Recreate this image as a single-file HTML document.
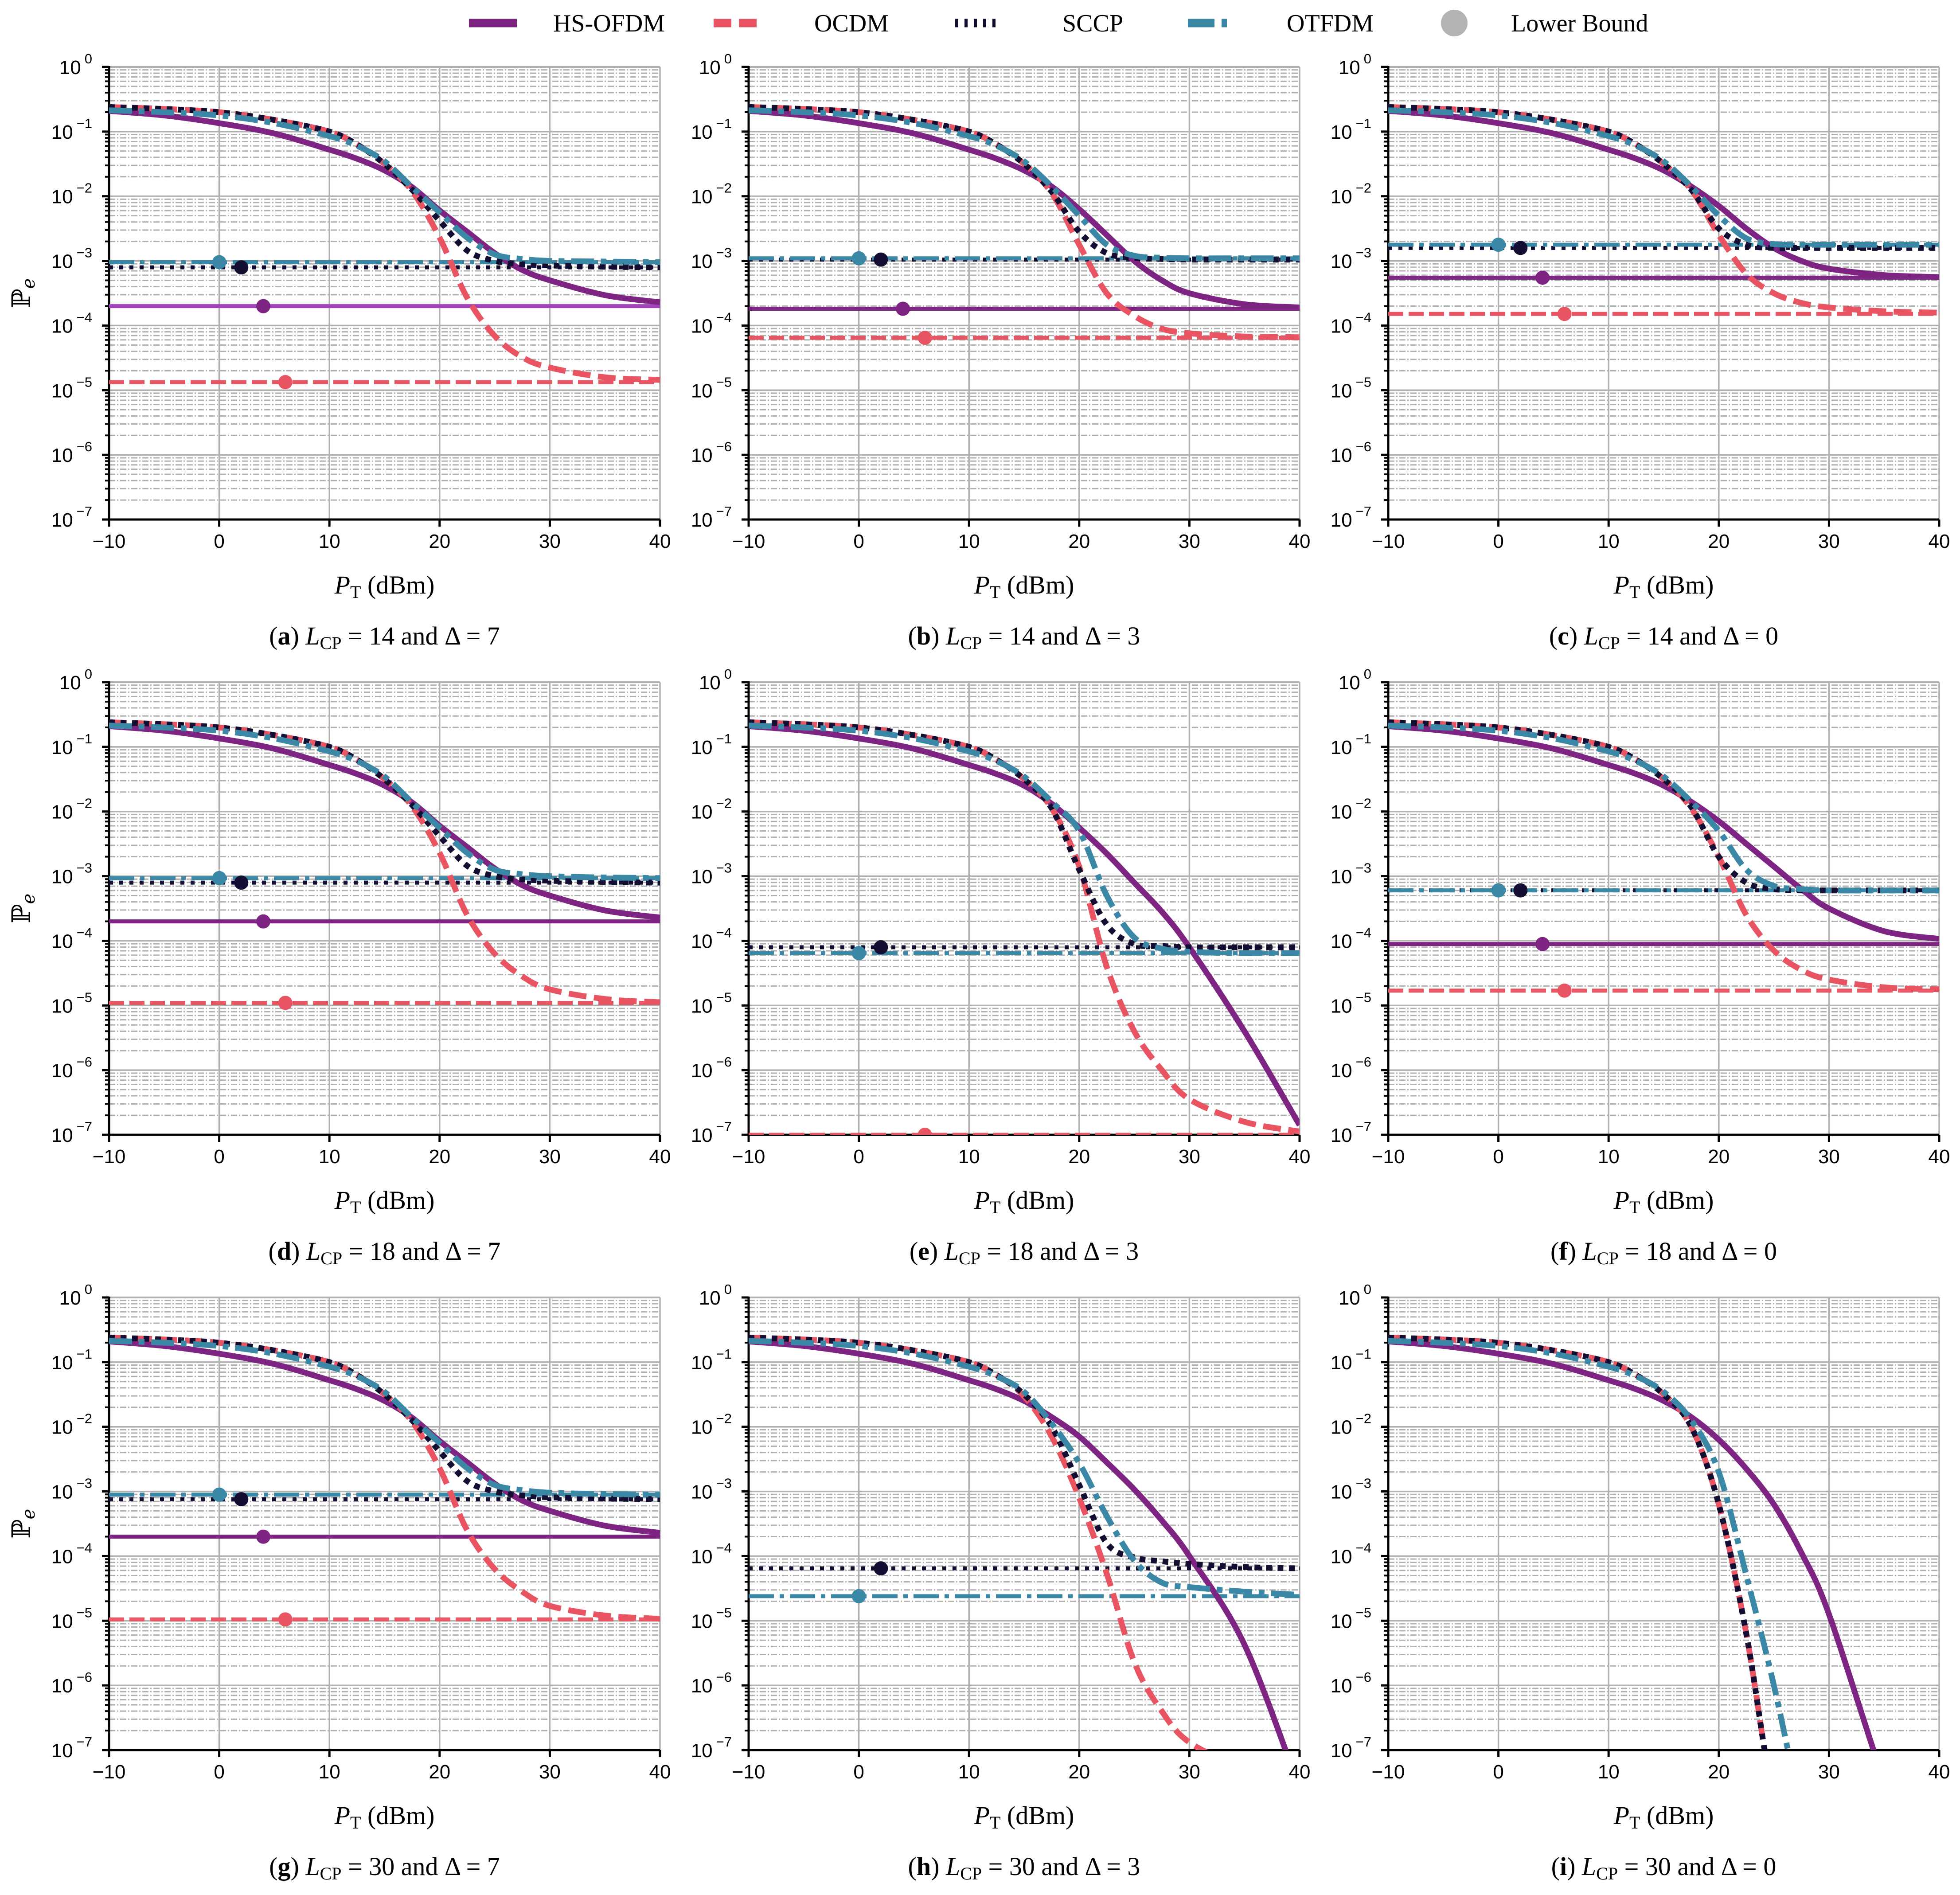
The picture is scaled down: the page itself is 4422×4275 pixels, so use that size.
<!DOCTYPE html>
<html><head><meta charset="utf-8"><style>
html,body{margin:0;padding:0;background:#fff;}
svg{display:block;}
</style></head><body>
<svg id="chart" xmlns="http://www.w3.org/2000/svg" width="4422" height="4275" viewBox="0 0 4422 4275">
<rect width="4422" height="4275" fill="#fff"/>
<g id="legend" font-family="Liberation Serif, serif" font-size="56">
  <g><line x1="1058" y1="52" x2="1166" y2="52" stroke="#7E2482" stroke-width="19"/><text x="1248" y="71">HS-OFDM</text></g>
  <g><line x1="1610" y1="52" x2="1718" y2="52" stroke="#E85462" stroke-width="19" stroke-dasharray="40 17"/><text x="1837" y="71">OCDM</text></g>
  <g><line x1="2155" y1="52" x2="2246" y2="52" stroke="#140F32" stroke-width="19" stroke-dasharray="7 14"/><text x="2397" y="71">SCCP</text></g>
  <g><line x1="2680" y1="52" x2="2791" y2="52" stroke="#3A88A6" stroke-width="19" stroke-dasharray="60 16 12 40"/><text x="2903" y="71">OTFDM</text></g>
  <g><circle cx="3281" cy="52" r="30" fill="#b3b3b3"/><text x="3409" y="71">Lower Bound</text></g>
</g>
<g id="panels"></g>
</svg>
<script>
const xs = [-10,-5,0,5,10,12.5,15,17.5,20,22.5,25,27.5,30,35,40];
const panelLetters = ['a','b','c','d','e','f','g','h','i'];
const panelLcp = [14,14,14,18,18,18,30,30,30];
const panelDelta = [7,3,0,7,3,0,7,3,0];
const yTickExps = [0,-1,-2,-3,-4,-5,-6,-7];
const xTickVals = [-10,0,10,20,30,40];
const boundX = [4,6,2,0]; // HS, OCDM, SCCP, OTFDM marker positions

// panel a
const hsA=[-0.68,-0.75,-0.87,-1.03,-1.28,-1.42,-1.6,-1.86,-2.22,-2.55,-2.88,-3.14,-3.30,-3.53,-3.64];
const ocA=[-0.62,-0.65,-0.70,-0.82,-1.0,-1.2,-1.5,-1.92,-2.64,-3.57,-4.16,-4.49,-4.65,-4.80,-4.84];
const scA=[-0.62,-0.65,-0.70,-0.82,-1.0,-1.2,-1.5,-1.9,-2.38,-2.84,-3.0,-3.05,-3.07,-3.09,-3.10];
const otA=[-0.67,-0.70,-0.75,-0.87,-1.07,-1.22,-1.46,-1.86,-2.25,-2.64,-2.9,-2.97,-3.0,-3.01,-3.02];
const boundA=[-3.70,-4.875,-3.10,-3.02];
// panel b
const hsB=[-0.68,-0.75,-0.87,-1.03,-1.28,-1.42,-1.6,-1.85,-2.2,-2.6,-3.0,-3.3,-3.5,-3.67,-3.72];
const ocB=[-0.62,-0.65,-0.70,-0.82,-1.0,-1.2,-1.5,-1.95,-2.75,-3.5,-3.85,-4.05,-4.12,-4.17,-4.18];
const scB=[-0.62,-0.65,-0.70,-0.82,-1.0,-1.2,-1.5,-1.93,-2.55,-2.88,-2.95,-2.97,-2.98,-2.98,-2.98];
const otB=[-0.67,-0.70,-0.75,-0.87,-1.07,-1.22,-1.46,-1.85,-2.3,-2.75,-2.92,-2.95,-2.96,-2.96,-2.96];
const boundB=[-3.74,-4.19,-2.98,-2.96];
// panel c
const hsC=[-0.68,-0.75,-0.87,-1.03,-1.28,-1.42,-1.6,-1.85,-2.15,-2.5,-2.8,-3.0,-3.12,-3.22,-3.25];
const ocC=[-0.62,-0.65,-0.70,-0.82,-1.0,-1.2,-1.5,-1.9,-2.6,-3.2,-3.5,-3.65,-3.72,-3.78,-3.8];
const scC=[-0.62,-0.65,-0.70,-0.82,-1.0,-1.2,-1.5,-1.9,-2.5,-2.75,-2.8,-2.8,-2.8,-2.8,-2.8];
const otC=[-0.67,-0.70,-0.75,-0.87,-1.07,-1.22,-1.46,-1.85,-2.3,-2.65,-2.74,-2.75,-2.75,-2.75,-2.75];
const boundC=[-3.26,-3.82,-2.8,-2.75];
// panel d
const hsD=[-0.68,-0.75,-0.87,-1.03,-1.28,-1.42,-1.6,-1.86,-2.22,-2.55,-2.88,-3.14,-3.30,-3.53,-3.64];
const ocD=[-0.62,-0.65,-0.70,-0.82,-1.0,-1.2,-1.5,-1.92,-2.64,-3.6,-4.2,-4.55,-4.75,-4.9,-4.95];
const scD=[-0.62,-0.65,-0.70,-0.82,-1.0,-1.2,-1.5,-1.9,-2.38,-2.84,-3.0,-3.05,-3.07,-3.09,-3.10];
const otD=[-0.67,-0.70,-0.75,-0.87,-1.07,-1.22,-1.46,-1.86,-2.25,-2.64,-2.9,-2.97,-3.0,-3.02,-3.03];
const boundD=[-3.70,-4.96,-3.10,-3.03];
// panel e
const hsE=[-0.68,-0.75,-0.87,-1.03,-1.28,-1.42,-1.6,-1.88,-2.25,-2.65,-3.1,-3.55,-4.1,-5.4,-6.85];
const ocE=[-0.62,-0.65,-0.70,-0.82,-1.0,-1.2,-1.5,-1.95,-2.85,-4.4,-5.4,-6.0,-6.45,-6.8,-6.95];
const scE=[-0.62,-0.65,-0.70,-0.82,-1.0,-1.2,-1.5,-1.95,-2.9,-3.75,-4.05,-4.08,-4.1,-4.1,-4.1];
const otE=[-0.67,-0.70,-0.75,-0.87,-1.07,-1.22,-1.46,-1.85,-2.3,-3.3,-3.95,-4.12,-4.17,-4.19,-4.19];
const boundE=[null,-7.0,-4.1,-4.19];
// panel f
const hsF=[-0.68,-0.75,-0.87,-1.03,-1.28,-1.42,-1.6,-1.85,-2.15,-2.5,-2.85,-3.2,-3.5,-3.85,-3.97];
const ocF=[-0.62,-0.65,-0.70,-0.82,-1.0,-1.2,-1.5,-1.95,-2.7,-3.6,-4.15,-4.45,-4.6,-4.72,-4.75];
const scF=[-0.62,-0.65,-0.70,-0.82,-1.0,-1.2,-1.5,-1.93,-2.7,-3.1,-3.2,-3.22,-3.22,-3.22,-3.22];
const otF=[-0.67,-0.70,-0.75,-0.87,-1.07,-1.22,-1.46,-1.85,-2.3,-2.9,-3.15,-3.2,-3.22,-3.22,-3.22];
const boundF=[-4.05,-4.77,-3.22,-3.22];
// panel g
const hsG=[-0.68,-0.75,-0.87,-1.03,-1.28,-1.42,-1.6,-1.86,-2.22,-2.55,-2.88,-3.14,-3.30,-3.53,-3.64];
const ocG=[-0.62,-0.65,-0.70,-0.82,-1.0,-1.2,-1.5,-1.92,-2.64,-3.6,-4.2,-4.55,-4.77,-4.92,-4.97];
const scG=[-0.62,-0.65,-0.70,-0.82,-1.0,-1.2,-1.5,-1.9,-2.38,-2.84,-3.0,-3.06,-3.09,-3.11,-3.12];
const otG=[-0.67,-0.70,-0.75,-0.87,-1.07,-1.22,-1.46,-1.86,-2.25,-2.64,-2.9,-2.98,-3.02,-3.04,-3.05];
const boundG=[-3.70,-4.98,-3.12,-3.05];
// panel h
const hsH=[-0.68,-0.75,-0.87,-1.03,-1.28,-1.42,-1.6,-1.85,-2.15,-2.55,-2.97,-3.45,-4.0,-5.37,-7.6];
const ocH=[-0.62,-0.65,-0.70,-0.82,-1.0,-1.2,-1.53,-2.15,-3.1,-4.27,-5.64,-6.4,-6.88,-7.3,-7.6];
const scH=[-0.62,-0.65,-0.70,-0.82,-1.0,-1.2,-1.5,-2.0,-2.9,-3.8,-4.02,-4.08,-4.12,-4.17,-4.19];
const otH=[-0.67,-0.70,-0.75,-0.87,-1.07,-1.22,-1.46,-1.95,-2.56,-3.38,-4.07,-4.41,-4.48,-4.55,-4.6];
const boundH=[null,null,-4.19,-4.62];
// panel i
const hsI=[-0.68,-0.75,-0.87,-1.03,-1.28,-1.42,-1.6,-1.85,-2.2,-2.65,-3.2,-3.95,-4.9,-7.5,-10];
const ocI=[-0.62,-0.65,-0.70,-0.82,-1.0,-1.2,-1.5,-2.0,-3.2,-5.2,-7.8,-9,-10,-10,-10];
const scI=[-0.62,-0.65,-0.70,-0.82,-1.0,-1.2,-1.5,-2.0,-3.2,-5.2,-7.8,-9,-10,-10,-10];
const otI=[-0.67,-0.70,-0.75,-0.87,-1.07,-1.22,-1.46,-1.9,-2.7,-4.3,-6.0,-8,-10,-10,-10];
const boundI=[null,null,null,null];

const hsAll=[hsA,hsB,hsC,hsD,hsE,hsF,hsG,hsH,hsI];
const ocAll=[ocA,ocB,ocC,ocD,ocE,ocF,ocG,ocH,ocI];
const scAll=[scA,scB,scC,scD,scE,scF,scG,scH,scI];
const otAll=[otA,otB,otC,otD,otE,otF,otG,otH,otI];
const boundAll=[boundA,boundB,boundC,boundD,boundE,boundF,boundG,boundH,boundI];

const NS='http://www.w3.org/2000/svg';
const colLeft=[246,1689,3132], rowTop=[151,1539,2927], PW=1243, PH=1021;
const seriesNames=['hs-ofdm','ocdm','sccp','otfdm'];
const colors=['#7E2482','#E85462','#140F32','#3A88A6'];
const curveDash=[null,'40 17','13 13','52 15 13 15'];
const boundDash=[null,'34 12','9 14','57 13 10 13'];
const GRID='#b0b0b0';
function mk(tag,attrs,parent){const e=document.createElementNS(NS,tag);for(const k in attrs)e.setAttribute(k,attrs[k]);if(parent)parent.appendChild(e);return e;}
const root=document.getElementById('panels');
const defs=mk('defs',{},root);

for(let p=0;p<9;p++){
  const L=colLeft[p%3], T=rowTop[Math.floor(p/3)], R=L+PW, B=T+PH;
  const sx=x=>L+(x+10)/50*PW;
  const sy=v=>T+(0-v)/7*PH;
  const g=mk('g',{},root);
  
  
  const cp=mk('clipPath',{id:'clip'+p},defs);
  mk('rect',{x:L,y:T,width:PW,height:PH},cp);
  // minor grid
  for(let e=0;e>-7;e--){for(let m=2;m<=9;m++){const v=e-1+Math.log10(m);const y=sy(v);
    const ln=mk('line',{x1:L,x2:R,y1:y,y2:y,stroke:GRID,'stroke-width':3,'stroke-dasharray':'14 4 3 4'},g);
    
    
    const tk=mk('line',{x1:L-9,x2:L,y1:y,y2:y,stroke:'#000','stroke-width':4},g);
    
    
  }}
  // major grid
  for(const e of yTickExps){const y=sy(e);
    const ln=mk('line',{x1:L,x2:R,y1:y,y2:y,stroke:GRID,'stroke-width':3.5},g);
    
    
    const tk=mk('line',{x1:L-16,x2:L,y1:y,y2:y,stroke:'#000','stroke-width':5},g);
    
    
    const t=mk('text',{x:L-38,y:y+16,'text-anchor':'end','font-family':'Liberation Sans, sans-serif','font-size':44},g);
    
    
    t.appendChild(document.createTextNode('10'));
    const sp=mk('tspan',{dy:-24,'font-size':31,dx:8},t);
    sp.textContent=e===0?'0':'\u2212'+(-e);
  }
  for(const xv of xTickVals){const x=sx(xv);
    const ln=mk('line',{x1:x,x2:x,y1:T,y2:B,stroke:GRID,'stroke-width':3.5},g);
    
    
    const tk=mk('line',{x1:x,x2:x,y1:B,y2:B+16,stroke:'#000','stroke-width':5},g);
    
    
    const t=mk('text',{x:x,y:B+64,'text-anchor':'middle','font-family':'Liberation Sans, sans-serif','font-size':44},g);
    
    
    t.textContent=xv<0?'\u2212'+(-xv):String(xv);
  }
  const top=mk('line',{x1:L,x2:R,y1:T,y2:T,stroke:GRID,'stroke-width':4},g);
  
  
  const ax=mk('path',{d:`M${L},${T-2}V${B}H${R}`,fill:'none',stroke:'#000','stroke-width':5},g);
  
  
  const plot=mk('g',{'clip-path':`url(#clip${p})`},g);
  
  
  // lower bounds
  const bounds=boundAll[p];
  for(let s=0;s<4;s++){const v=bounds[s]; if(v===null) continue; const y=sy(v);
    const col=(s===0&&p===0)?'#A546BE':colors[s];
    const a={x1:L,x2:R,y1:y,y2:y,stroke:col,'stroke-width':9};
    if(boundDash[s]) a['stroke-dasharray']=boundDash[s];
    const ln=mk('line',a,plot);
    
    
  }
  // curves
  const sets=[hsAll[p],ocAll[p],scAll[p],otAll[p]];
  for(let s=0;s<4;s++){
    const vals=sets[s]; const pts=xs.map((x,i)=>[sx(x),sy(vals[i])]);
    let d=`M${pts[0][0]},${pts[0][1]}`;
    for(let i=0;i<pts.length-1;i++){
      const p0=pts[Math.max(0,i-1)],p1=pts[i],p2=pts[i+1],p3=pts[Math.min(pts.length-1,i+2)];
      const c1=[p1[0]+(p2[0]-p0[0])/6,p1[1]+(p2[1]-p0[1])/6];
      const c2=[p2[0]-(p3[0]-p1[0])/6,p2[1]-(p3[1]-p1[1])/6];
      d+=`C${c1[0].toFixed(1)},${c1[1].toFixed(1)} ${c2[0].toFixed(1)},${c2[1].toFixed(1)} ${p2[0].toFixed(1)},${p2[1].toFixed(1)}`;
    }
    const a={d:d,fill:'none',stroke:colors[s],'stroke-width':13};
    if(curveDash[s]) a['stroke-dasharray']=curveDash[s];
    const path=mk('path',a,plot);
    
    
  }
  // markers
  for(let s=0;s<4;s++){const v=bounds[s]; if(v===null) continue;
    const c=mk('circle',{cx:sx(boundX[s]),cy:sy(v),r:16,fill:colors[s]},plot);
    
    
  }
  // x label
  const cx=L+PW/2;
  const xl=mk('text',{x:cx,y:B+167,'text-anchor':'middle','font-family':'Liberation Serif, serif','font-size':58},g);
  
  
  mk('tspan',{'font-style':'italic'},xl).textContent='P';
  mk('tspan',{'font-size':40,dy:10},xl).textContent='T';
  mk('tspan',{dy:-10},xl).textContent=' (dBm)';
  // caption
  const cap=mk('text',{x:cx,y:B+282,'text-anchor':'middle','font-family':'Liberation Serif, serif','font-size':58},g);
  
  
  mk('tspan',{},cap).textContent='(';
  mk('tspan',{'font-weight':'bold'},cap).textContent=panelLetters[p];
  mk('tspan',{},cap).textContent=') ';
  mk('tspan',{'font-style':'italic'},cap).textContent='L';
  mk('tspan',{'font-size':40,dy:10},cap).textContent='CP';
  mk('tspan',{dy:-10},cap).textContent=' = '+panelLcp[p]+' and \u0394 = '+panelDelta[p];
  // y label
  if(p%3===0){
    const yl=mk('text',{x:0,y:0,transform:`translate(68,${T+PH/2}) rotate(-90)`,'text-anchor':'middle','font-family':'DejaVu Serif, Liberation Serif, serif','font-size':58},g);
    
    
    yl.appendChild(document.createTextNode('\u2119'));
    mk('tspan',{'font-size':40,dy:10,'font-style':'italic'},yl).textContent='e';
  }
}
</script>
</body></html>
